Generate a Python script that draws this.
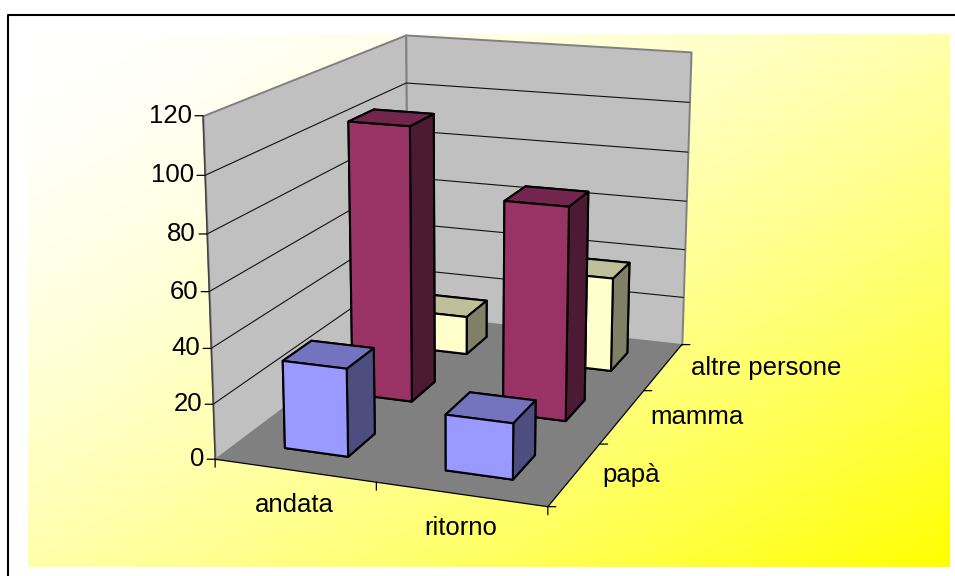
import numpy as np, matplotlib
matplotlib.use('Agg')
import matplotlib.pyplot as plt, seaborn as sns
from matplotlib.lines import Line2D
from mpl_toolkits.mplot3d import proj3d
from mpl_toolkits.mplot3d.art3d import Poly3DCollection

# ---- data ----
trips = ['andata', 'ritorno']
people = ['papà', 'mamma', 'altre persone']
papa = [32, 20]
mamma = [104.5, 80]
altre = [15.5, 37.5]
zticks = [0, 20, 40, 60, 80, 100, 120]

W, H = 955, 576
sns.set_theme(style='white')
plt.rcParams['font.family'] = ['Liberation Sans', 'DejaVu Sans']
FS = 18.5

fig = plt.figure(figsize=(W/100, H/100), dpi=100, facecolor='white')

# gradient background and partial frame
bg = fig.add_axes([28/W, 1-567/H, (949-28)/W, (567-34)/H], zorder=0)
gx, gy = np.meshgrid(np.linspace(0, 1, 400), np.linspace(0, 1, 300))
t = ((gx+gy)/2)**1.6
img = np.dstack([np.ones_like(t), np.ones_like(t), 1-t])
bg.imshow(img, aspect='auto', interpolation='bilinear')
bg.axis('off')
fig.add_artist(Line2D([8/W, 8/W, 955/W], [0, 1-14.5/H, 1-14.5/H], color='black', lw=1.5))

# 3D chart
ax = fig.add_axes([0, 0, 1, 1], projection='3d', computed_zorder=False, zorder=1)
ax.patch.set_alpha(0)
ax.set_axis_off()
ax.set_xlim(0, 2); ax.set_ylim(0, 3); ax.set_zlim(0, 120)
ax.view_init(15.184, -69.962, -0.061)
ax.set_proj_type('persp', focal_length=0.5486)
ax.set_box_aspect((0.9984, 1.4846, 1))
S, TX, TY = 3520.58, 468.29, 333.45
L0 = 1000.0
ax.set_position([0, 0, L0/W, L0/H])
ax.apply_aspect()
o = ax.transData.transform((0, 0)); e = ax.transData.transform((1, 0))
k = (e-o)[0]/L0
L = S/k
l = TX-(o[0]/L0)*L
b = TY-(o[1]/L0)*L
ax.set_position([l/W, b/H, L/W, L/H])
ax.apply_aspect()

nx, ny, nz = 2, 3, 120
WALL, FLOOR = '#C0C0C0', '#808080'
def poly(v, fc, ec='none', lw=0, z=1):
    c = Poly3DCollection([v], facecolors=fc, edgecolors=ec, linewidths=lw, zorder=z)
    ax.add_collection3d(c)
poly([(0,0,0),(0,ny,0),(0,ny,nz),(0,0,nz)], WALL, '#808080', 1.4)
poly([(0,ny,0),(nx,ny,0),(nx,ny,nz),(0,ny,nz)], WALL, '#808080', 1.4)
poly([(0,0,0),(nx,0,0),(nx,ny,0),(0,ny,0)], FLOOR, z=2)
for zv in zticks[1:-1]:
    ax.plot([0,0,nx],[0,ny,ny],[zv,zv,zv], color='#111111', lw=0.8, zorder=3)
ax.plot([0,nx,nx],[0,0,ny],[0,0,0], color='black', lw=0.9, zorder=3)
ax.plot([0,0],[0,0],[0,nz], color='#404040', lw=1.0, zorder=3)

# bars back to front
sets = [(altre, '#FFFFCC', '#BFBF99', '#808066'),
        (mamma, '#993366', '#73264D', '#4D1A33'),
        (papa, '#9999FF', '#7373BF', '#4D4D80')]
dx, dy = 0.4, 0.4
zo = 10
for j, (vals, front, top, side) in zip([2, 1, 0], sets):
    for i, v in enumerate(vals):
        cols = [front, top, front, front, side, side]
        ax.bar3d(i+.5-dx/2, j+.5-dy/2, 0, dx, dy, v, color=cols, edgecolor='black',
                 linewidth=1.5, shade=False, zorder=zo)
        zo += 1

def to2d(x, y, z):
    u, v, _ = proj3d.proj_transform(x, y, z, ax.get_proj())
    return (u, v)
def tick(x, y, z, dxp, dyp):
    ax.annotate('', xy=to2d(x,y,z), xycoords='data', xytext=(dxp,dyp), textcoords='offset pixels',
                arrowprops=dict(arrowstyle='-', lw=0.9, color='black', shrinkA=0, shrinkB=0), zorder=30)
def label(s, x, y, z, dxp, dyp, ha='center'):
    ax.annotate(s, xy=to2d(x,y,z), xycoords='data', xytext=(dxp,dyp), textcoords='offset pixels',
                ha=ha, va='center', fontsize=FS, color='black', zorder=31)

for zv in zticks:
    tick(0, 0, zv, -8, 0)
    label(str(zv), 0, 0, zv, -11, 0, ha='right')
for i in range(nx+1):
    tick(i, 0, 0, 0, -8)
for j in range(ny+1):
    tick(nx, j, 0, 8, 0)
for i, s in enumerate(trips):
    label(s, i+.5, 0, 0, 0, -34)
for j, s in enumerate(people):
    label(s, nx, j+.5, 0, 28, -1, ha='left')

fig.savefig('out.png', dpi=100)
